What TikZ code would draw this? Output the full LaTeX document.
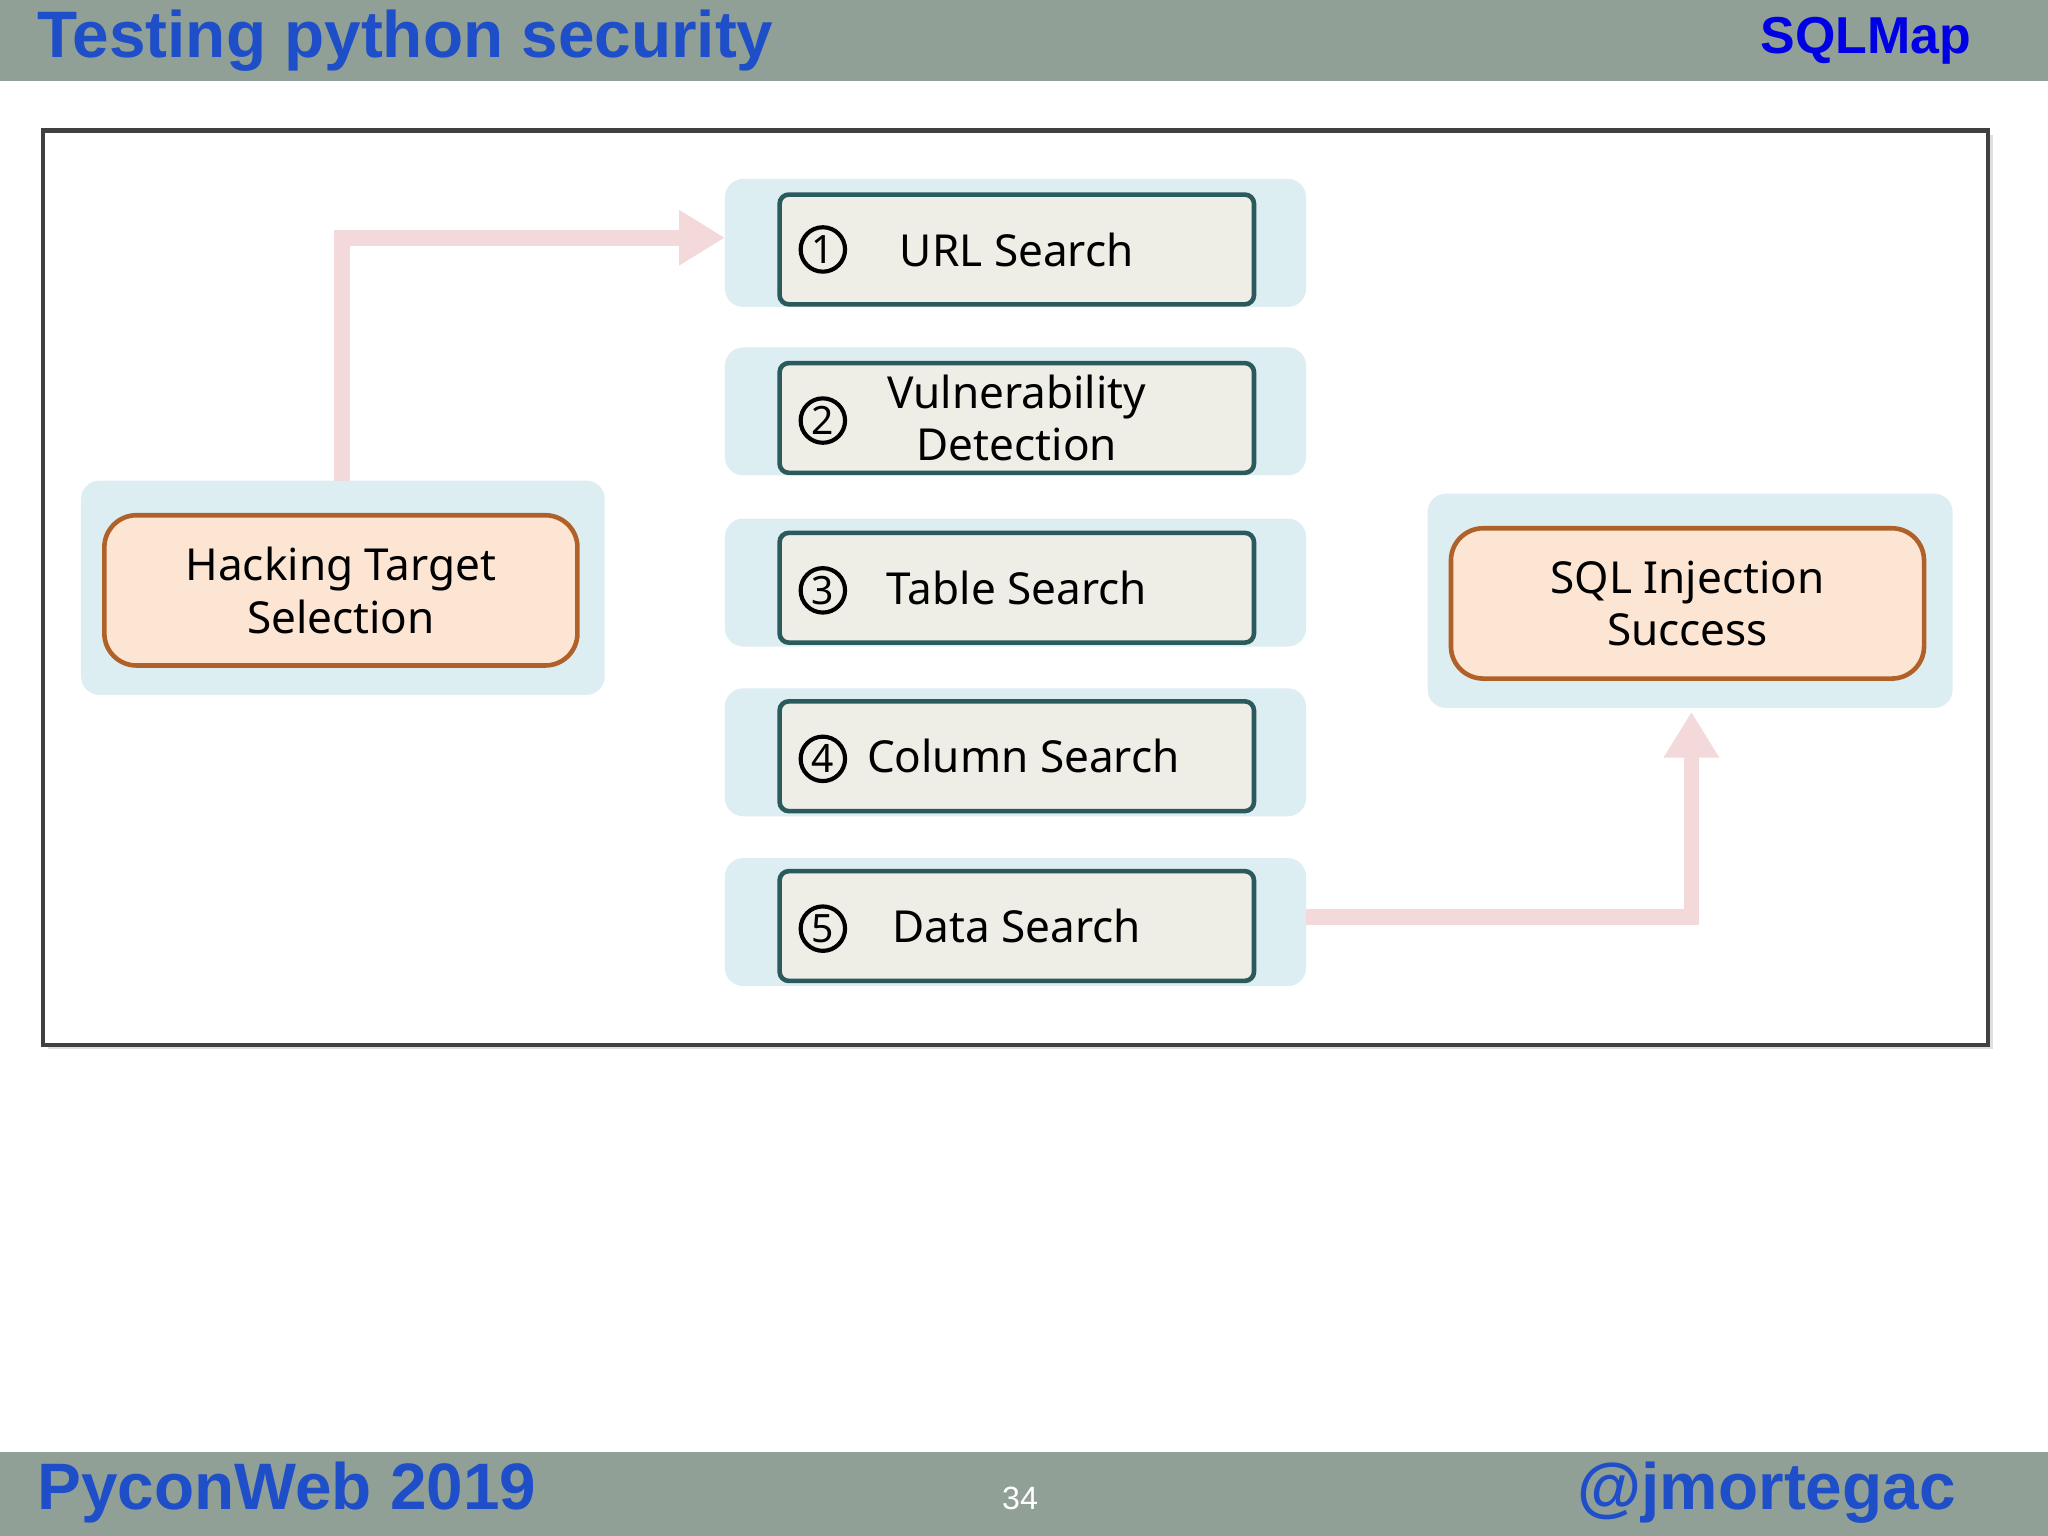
\documentclass[tikz,border=0pt]{standalone}
\usepackage{fontspec}
\setmainfont{Noto Sans}
\newfontfamily\hdr{Liberation Sans}
\usetikzlibrary{arrows.meta,shadows}
\definecolor{bar}{HTML}{91A096}
\definecolor{ttl}{HTML}{1F4FC8}
\definecolor{pan}{HTML}{DDEEF3}
\definecolor{stepf}{HTML}{EEEDE6}
\definecolor{stepd}{HTML}{2A5A5C}
\definecolor{orf}{HTML}{FCE6D3}
\definecolor{ord}{HTML}{B0612A}
\definecolor{pnk}{HTML}{F4D9DB}
\begin{document}
\begin{tikzpicture}[x=0.01cm,y=-0.01cm,
  panel/.style={fill=pan,draw=none,rounded corners=4pt},
  stepbox/.style={draw=stepd,line width=1pt,fill=stepf,rounded corners=2pt,minimum width=3.63cm,minimum height=0.84cm,inner sep=1pt,font=\fontsize{9.6pt}{11.5pt}\selectfont,align=center},
  goal/.style={draw=ord,line width=1pt,fill=orf,rounded corners=7pt,minimum width=3.62cm,minimum height=1.15cm,font=\fontsize{9.6pt}{11.5pt}\selectfont,align=center},
  num/.style={circle,draw=black,line width=0.9pt,inner sep=0pt,minimum size=0.34cm,font=\fontsize{8.5pt}{9pt}\selectfont},
  hd/.style={inner sep=0pt,text=ttl,font=\hdr\bfseries\fontsize{14.3pt}{15pt}\selectfont},
  flow/.style={pnk,line width=3.4pt,-{Triangle[length=0.35cm,width=0.4cm]}}]
\useasboundingbox (0,0) rectangle (1568,1176);
\fill[white] (0,0) rectangle (1568,1176);
\fill[bar] (0,0) rectangle (1568,62);
\fill[bar] (0,1112) rectangle (1568,1176);
\node[hd,anchor=west] (title) at (28,31) {Testing python security};
\node[anchor=east,inner sep=0pt,text=blue!90!black,font=\hdr\bfseries\fontsize{11.3pt}{12pt}\selectfont] (sub) at (1510,31) {SQLMap};
\node[hd,anchor=west] (foot) at (28,1143) {PyconWeb 2019};
\node[hd,anchor=east] (hand) at (1498,1143) {@jmortegac};
\node[text=white,font=\hdr\fontsize{7pt}{8pt}\selectfont] (pg) at (781,1147) {34};
\draw[line width=1pt,draw=black!75,drop shadow={opacity=0.25,shadow xshift=1pt,shadow yshift=-1pt},fill=white] (33,100) rectangle (1522,800);
\foreach \y in {137,266,397,527,657}{\fill[panel] (555,\y) rectangle (1000,\y+98);}
\fill[panel] (62,368) rectangle (463,532);
\fill[panel] (1093,378) rectangle (1495,542);
\coordinate (lt) at (262,368);
\coordinate (rb) at (1000,702);
\coordinate (p1) at (555,182);
\coordinate (p2) at (1295,545);
\draw[flow] (lt) |- (p1);
\draw[flow] (rb) -| (p2);
\node[stepbox] (s1) at (778.5,191) {URL Search};
\node[stepbox] (s2) at (778.5,320) {Vulnerability\\Detection};
\node[stepbox] (s3) at (778.5,450) {Table Search};
\node[stepbox] (s4) at (778.5,579) {\hspace*{0.1cm}Column Search};
\node[stepbox] (s5) at (778.5,709) {Data Search};
\foreach \i/\y in {1/191,2/322,3/452,4/581,5/711}{\node[num] (n\i) at (630,\y) {\textbf{\i}};}
\node[goal] (hk) at (261,452) {Hacking Target\\Selection};
\node[goal] (sq) at (1292,462) {SQL Injection\\Success};
\end{tikzpicture}
\end{document}
